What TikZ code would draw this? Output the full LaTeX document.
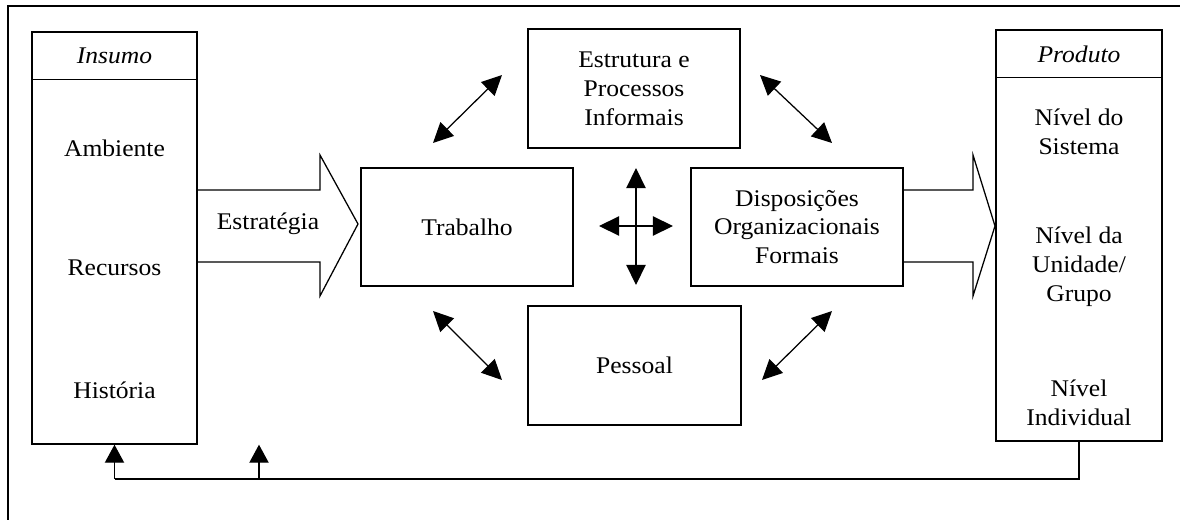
\documentclass[tikz,border=0pt]{standalone}
\usepackage{fontspec}
\setmainfont{Liberation Serif}[FakeStretch=1.07]
\usetikzlibrary{arrows.meta}

\tikzset{
  caixa/.style={draw, line width=0.9pt, align=center, inner sep=0pt},
  seta/.style={line width=0.9pt, {Triangle[length=0.5cm,width=0.48cm]}-{Triangle[length=0.5cm,width=0.48cm]}},
  retorno/.style={line width=0.9pt, -{Triangle[length=0.45cm,width=0.48cm]}},
  setagrande/.style={draw, line width=0.9pt, line join=miter},
}

\begin{document}
\begin{tikzpicture}[x=0.025cm, y=-0.025cm, font=\fontsize{17}{20.5}\selectfont]
    \clip (0,0) rectangle (1180,520);
    \draw[line width=1.2pt] (8,6) rectangle (1200,540);

    \node[caixa, minimum width=4.125cm, minimum height=10.3cm] (insumo) at (114.5,238) {};
    \draw[line width=0.9pt] ([yshift=-1.2cm]insumo.north west) -- ([yshift=-1.2cm]insumo.north east);
    \node (insumotit) at ([yshift=-0.62cm]insumo.north) {\textit{Insumo}};
    \node (ambiente) at (114.5,148) {Ambiente};
    \node (recursos) at (114.5,268) {Recursos};
    \node (historia) at (114.5,390) {História};

    \node[caixa, minimum width=4.15cm, minimum height=10.275cm] (produto) at (1079,235.5) {};
    \draw[line width=0.9pt] ([yshift=-1.2cm]produto.north west) -- ([yshift=-1.2cm]produto.north east);
    \node (produtotit) at ([yshift=-0.62cm]produto.north) {\textit{Produto}};
    \node[align=center] (sistema) at (1079,132) {Nível do\\Sistema};
    \node[align=center] (unidade) at (1079,267) {Nível da\\Unidade/\\Grupo};
    \node[align=center] (individual) at (1079,403) {Nível\\Individual};

    \node[caixa, minimum width=5.3cm, minimum height=2.975cm] (estrutura) at (634,88.5) {Estrutura e\\Processos\\Informais};
    \node[caixa, minimum width=5.3cm, minimum height=2.95cm] (trabalho) at (467,227) {Trabalho};
    \node[caixa, minimum width=5.3cm, minimum height=2.95cm] (disposicoes) at (797,227) {Disposições\\Organizacionais\\Formais};
    \node[caixa, minimum width=5.325cm, minimum height=2.975cm] (pessoal) at (634.5,365.5) {Pessoal};

    \draw[setagrande] (197,190) -- (320,190) -- (320,155) -- (358,224) -- (320,296) -- (320,262) -- (197,262);
    \node (estrategia) at (268,224) {Estratégia};
    \draw[setagrande] (903,190) -- (973,190) -- (973,155) -- (995,226) -- (973,296) -- (973,262) -- (903,262);

    \coordinate (cn) at (636,168);
    \coordinate (cs) at (636,285);
    \coordinate (cw) at (599,226);
    \coordinate (ce) at (673,226);
    \draw[seta] (cn) -- (cs);
    \draw[seta] (cw) -- (ce);

    \coordinate (no1) at (433,143);
    \coordinate (no2) at (502,75);
    \coordinate (ne1) at (760,75);
    \coordinate (ne2) at (832,143);
    \coordinate (so1) at (433,311);
    \coordinate (so2) at (502,380);
    \coordinate (se1) at (762,380);
    \coordinate (se2) at (832,311);
    \draw[seta] (no1) -- (no2);
    \draw[seta] (ne1) -- (ne2);
    \draw[seta] (so1) -- (so2);
    \draw[seta] (se1) -- (se2);

    \coordinate (r1) at (114.5,479);
    \coordinate (r2) at (259,479);
    \draw[line width=0.9pt] (produto.south) |- (r1);
    \draw[retorno] (r1) -- (insumo.south);
    \draw[retorno] (r2) -- (r2 |- insumo.south);
\end{tikzpicture}
\end{document}
